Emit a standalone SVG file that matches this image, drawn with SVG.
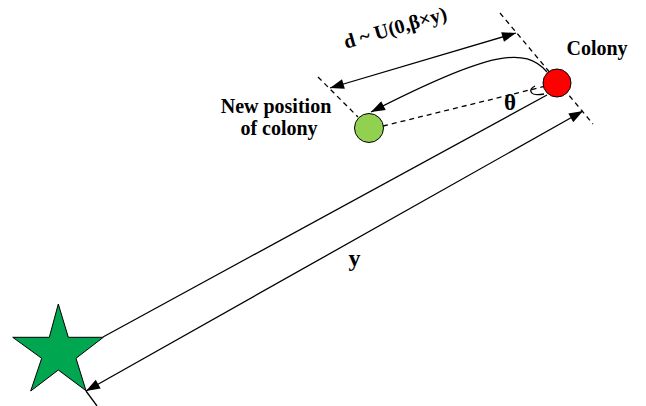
<svg xmlns="http://www.w3.org/2000/svg" width="646" height="406" viewBox="0 0 646 406">
<style>
.ln{stroke:#000;stroke-width:1.3;fill:none}
.dash{stroke:#000;stroke-width:1.3;fill:none;stroke-dasharray:5 4}
.lbl{font-family:"Liberation Serif","Times New Roman",serif;font-weight:bold;font-size:20px;fill:#000}
</style>
<defs>
<marker id="ah" viewBox="0 0 14 10" refX="14" refY="5" markerWidth="15" markerHeight="10" markerUnits="userSpaceOnUse" orient="auto-start-reverse">
<path d="M0,0 L14,5 L0,10 z" fill="#000"/>
</marker>
</defs>
<rect width="646" height="406" fill="#fff"/>
<g id="connectors">
<line class="dash" x1="500" y1="13" x2="593" y2="124"/>
<line class="dash" x1="318" y1="77" x2="358" y2="117"/>
<line class="dash" x1="383" y1="126" x2="546" y2="86"/>
<line class="ln" x1="330" y1="88" x2="516" y2="33" marker-start="url(#ah)" marker-end="url(#ah)"/>
<path class="ln" d="M547,72 C525,47 492,50 371,112" marker-end="url(#ah)"/>
<line class="ln" x1="103" y1="337" x2="547" y2="95"/>
<line class="ln" x1="86" y1="391" x2="583" y2="111" marker-start="url(#ah)" marker-end="url(#ah)"/>
<line class="ln" x1="86" y1="391" x2="97" y2="406"/>
<path class="ln" d="M535,86 C528,89 529,97 544,94"/>
</g>
<g id="star">
<polygon points="58.3,304 68.3,337.3 103.3,337.3 76,358.3 86,390.7 58.3,370 30.7,391 41.7,358.3 12.7,337.3 49.3,337.3" fill="#00A650" stroke="#000" stroke-width="1"/>
</g>
<g id="colony">
<circle cx="557" cy="83" r="14" fill="#FF0000" stroke="#000" stroke-width="1"/>
<text class="lbl" x="597" y="55" text-anchor="middle">Colony</text>
</g>
<g id="new-position">
<circle cx="369" cy="128" r="14.5" fill="#92D050" stroke="#000" stroke-width="1"/>
<text class="lbl" x="276" y="113" text-anchor="middle">New position</text>
<text class="lbl" x="279" y="135" text-anchor="middle">of colony</text>
</g>
<g id="labels">
<text class="lbl" transform="translate(397,34) rotate(-16)" text-anchor="middle">d ~ U(0,β×y)</text>
<text class="lbl" x="510" y="110" text-anchor="middle" style="font-size:23px">θ</text>
<text class="lbl" x="354.5" y="266" text-anchor="middle" style="font-size:24px">y</text>
</g>
</svg>
